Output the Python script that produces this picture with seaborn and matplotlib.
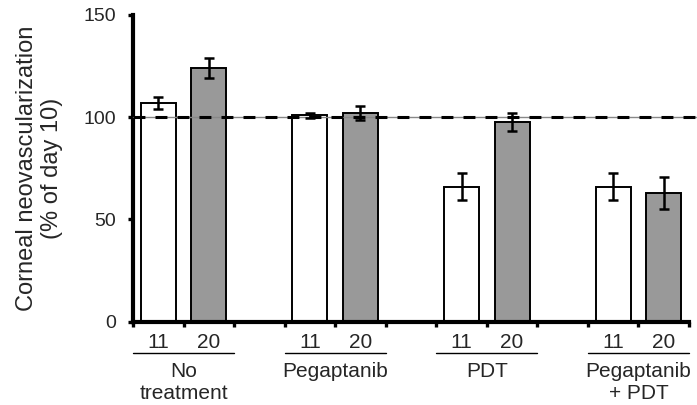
import matplotlib
matplotlib.use("Agg")
import matplotlib.pyplot as plt
import matplotlib.transforms as mtransforms
import seaborn as sns
import pandas as pd
import numpy as np

# ---- data ----
groups = ["No\ntreatment", "Pegaptanib", "PDT", "Pegaptanib\n+ PDT"]
days = ["11", "20"]
day11_mean = [107, 101, 66, 66]
day11_err = [3, 1.2, 6.5, 6.5]
day20_mean = [124, 102, 97.5, 63]
day20_err = [5, 3.5, 4.4, 7.8]
reference_level = 100
y_ticks = [0, 50, 100, 150]
y_label = "Corneal neovascularization\n(% of day 10)"

sns.set_theme(style="white")
plt.rcParams['font.family'] = ['Liberation Sans', 'DejaVu Sans']

rows = []
order = []
for gi, g in enumerate(groups):
    for day, means, errs in ((days[0], day11_mean, day11_err), (days[1], day20_mean, day20_err)):
        slot = f"{gi}-{day}"
        order.append(slot)
        rows.append(dict(slot=slot, group=g, day=day, value=means[gi], err=errs[gi]))
    if gi < len(groups) - 1:
        order.append(f"gap{gi}")
df = pd.DataFrame(rows)

fig = plt.figure(figsize=(6.97, 4.05), dpi=100)
ax = fig.add_axes([0.1908, 0.2057, 0.7977, 0.7573])

sns.barplot(data=df, x="slot", y="value", hue="day", order=order,
            palette={"11": "white", "20": "#999999"}, dodge=False,
            width=0.69, edgecolor="black", linewidth=1.4, legend=False,
            errorbar=None, ax=ax, zorder=2)

xpos = [order.index(s) for s in df["slot"]]
ax.errorbar(xpos, df["value"], yerr=df["err"], fmt="none", ecolor="black",
            elinewidth=1.8, capsize=3.6, capthick=1.8, zorder=6)

# reference dashed line
ax.plot([-0.5, 10.7], [reference_level, reference_level], color="#888888",
        lw=1.0, clip_on=False, zorder=4)
ax.plot([-0.5, 10.7], [reference_level, reference_level], color="black",
        lw=2.2, dashes=(3.9, 3.3), clip_on=False, zorder=5)

ax.set_xlim(-0.5, len(order) - 0.5)
ax.set_ylim(0, 150)
ax.set_yticks(y_ticks)
ax.set_yticklabels([str(t) for t in y_ticks])
ax.set_xticks(np.arange(-0.5, len(order)), labels=[""] * (len(order) + 1))
ax.set_xticks(xpos, labels=list(df["day"]), minor=True)
ax.tick_params(axis="x", which="major", direction="out", length=3.8, width=2.4,
               color="black", bottom=True)
ax.tick_params(axis="x", which="minor", length=0, pad=8, labelsize=15, bottom=True)
ax.tick_params(axis="y", direction="out", length=3.8, width=2.4, color="black",
               labelsize=14, pad=8.5, left=True)
ax.set_xlabel("")
ax.set_ylabel(y_label, fontsize=17, linespacing=1.15)
ax.yaxis.set_label_coords(-0.126, 0.5)

sns.despine(ax=ax)
for side in ("left", "bottom"):
    ax.spines[side].set_linewidth(3)
    ax.spines[side].set_color("black")

trans = mtransforms.blended_transform_factory(ax.transData, ax.transAxes)
for gi, g in enumerate(groups):
    c = (order.index(f"{gi}-11") + order.index(f"{gi}-20")) / 2
    ax.plot([c - 1.0, c + 1.0], [-0.102, -0.102], transform=trans,
            color="black", lw=1.0, clip_on=False)
    ax.text(c, -0.133, g, transform=trans, ha="center", va="top",
            fontsize=15, linespacing=1.2)

fig.savefig("out.png", dpi=100)
